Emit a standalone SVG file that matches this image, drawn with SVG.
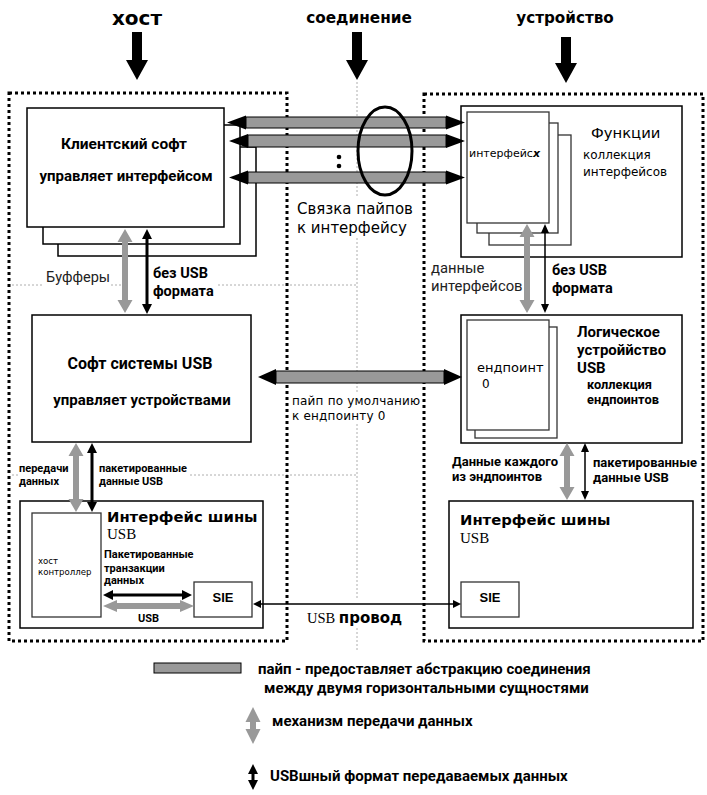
<svg xmlns="http://www.w3.org/2000/svg" width="707" height="795" viewBox="0 0 707 795">
<style>
.box{fill:#fff;stroke:#000;stroke-width:1.5}
.ibox{fill:#fff;stroke:#333;stroke-width:1.3}
.frame{fill:none;stroke:#000;stroke-width:3;stroke-dasharray:3 3}
.guide{fill:none;stroke:#999;stroke-width:0.8;stroke-dasharray:2 2}
.pipe{fill:#999;stroke:#000;stroke-width:1}
.head{fill:#000;stroke:none}
.garr{fill:#999;stroke:none}
.barr{fill:#000;stroke:none}
.rb{font-family:Roboto,"Liberation Sans",sans-serif;font-weight:bold;fill:#000}
.rr{font-family:Roboto,"Liberation Sans",sans-serif;fill:#222}
.dj{font-family:"DejaVu Sans",sans-serif;fill:#000}
.djb{font-family:"DejaVu Sans",sans-serif;font-weight:bold;fill:#000}
.sf{font-family:"Liberation Serif",serif;fill:#000}
.ls{font-family:"Liberation Sans",Arial,sans-serif;font-weight:bold;fill:#000}
</style>
<rect x="0" y="0" width="707" height="795" fill="#fff"/>

<g id="guides">
<path class="guide" d="M357,82V198M357,238V392M357,424V598M357,628V650"/>
<path class="guide" d="M12,285H44M111,285H121M218,285H358"/>
<path class="guide" d="M12,475H18M190,475H358"/>
</g>

<g id="titles">
<text class="djb" x="137" y="25" font-size="20" text-anchor="middle">хост</text>
<polygon class="barr" points="132,32 142,32 142,60 148,60 137,80 126,60 132,60"/>
<text class="djb" x="359" y="23" font-size="15.3" text-anchor="middle">соединение</text>
<polygon class="barr" points="352,32 362,32 362,60 368,60 357,80 346,60 352,60"/>
<text class="djb" x="565" y="23" font-size="15.2" text-anchor="middle">устройство</text>
<polygon class="barr" points="561,37 571,37 571,63 577,63 566,83 555,63 561,63"/>
</g>

<g id="host-frame"><rect class="frame" x="9" y="93" width="278" height="548"/></g>
<g id="device-frame"><rect class="frame" x="424" y="94" width="279" height="547"/></g>

<g id="client-soft">
<rect class="box" x="58" y="147" width="198" height="109"/>
<rect class="box" x="43" y="125" width="197" height="119"/>
<rect class="box" x="27" y="108" width="197" height="119"/>
<text class="rb" x="124" y="149" font-size="15.5" text-anchor="middle">Клиентский софт</text>
<text class="rb" x="126" y="181" font-size="15" text-anchor="middle">управляет интерфейсом</text>
</g>

<g id="functions">
<rect class="box" x="461" y="106" width="221" height="151"/>
<rect class="ibox" x="489" y="135" width="82" height="110"/>
<rect class="ibox" x="477" y="123" width="81" height="110"/>
<rect class="ibox" x="467" y="112" width="82" height="111"/>
<text class="dj" x="469" y="157" font-size="11">интерфейс<tspan font-weight="bold" font-style="italic">x</tspan></text>
<text class="dj" x="591" y="138" font-size="14.8">Функции</text>
<text class="dj" x="583" y="159" font-size="12">коллекция</text>
<text class="dj" x="583" y="176" font-size="12">интерфейсов</text>
</g>

<g id="usb-system-soft">
<rect class="box" x="32" y="315" width="219" height="127"/>
<text class="rb" x="140" y="369" font-size="16" text-anchor="middle">Софт системы USB</text>
<text class="rb" x="142" y="405" font-size="15" text-anchor="middle">управляет устройствами</text>
</g>

<g id="logical-device">
<rect class="box" x="461" y="315" width="221" height="128"/>
<rect class="ibox" x="475" y="327" width="82" height="111"/>
<rect class="ibox" x="467" y="320" width="82" height="110"/>
<text class="dj" x="477" y="372" font-size="13">ендпоинт</text>
<text class="dj" x="482" y="388" font-size="12">0</text>
<text class="rb" x="577" y="337" font-size="15">Логическое</text>
<text class="rb" x="577" y="355" font-size="15">устроййство</text>
<text class="rb" x="577" y="373" font-size="15">USB</text>
<text class="rb" x="587" y="389" font-size="12.8">коллекция</text>
<text class="rb" x="587" y="404" font-size="12.8">ендпоинтов</text>
</g>

<g id="host-bus-interface">
<rect class="box" x="20" y="501" width="243" height="127"/>
<rect class="ibox" x="32" y="513" width="69" height="104"/>
<text class="dj" x="38" y="564" font-size="8.6">хост</text>
<text class="dj" x="38" y="575" font-size="8.6">контроллер</text>
<text class="djb" x="107" y="522" font-size="14.8">Интерфейс шины</text>
<text class="sf" x="107" y="539" font-size="15">USB</text>
<text class="rb" x="104" y="558" font-size="11">Пакетированные</text>
<text class="rb" x="104" y="572" font-size="11">транзакции</text>
<text class="rb" x="104" y="584" font-size="11">данных</text>
<rect class="ibox" x="194" y="582" width="58" height="35"/>
<text class="ls" x="223" y="602" font-size="13" text-anchor="middle">SIE</text>
<text class="rb" x="138" y="622" font-size="11">USB</text>
</g>

<g id="device-bus-interface">
<rect class="box" x="449" y="501" width="244" height="127"/>
<text class="djb" x="460" y="525" font-size="14.8">Интерфейс шины</text>
<text class="sf" x="460" y="543" font-size="15">USB</text>
<rect class="ibox" x="461" y="582" width="58" height="35"/>
<text class="ls" x="490" y="602" font-size="13" text-anchor="middle">SIE</text>
</g>

<g id="connectors">
<rect class="pipe" x="246" y="117" width="200" height="11"/>
<polygon class="head" points="246,115.5 227,122.5 246,129.5"/>
<polygon class="head" points="446,115.5 465,122.5 446,129.5"/>
<rect class="pipe" x="248" y="135" width="198" height="12"/>
<polygon class="head" points="248,134 229,141 248,148"/>
<polygon class="head" points="446,134 465,141 446,148"/>
<rect class="pipe" x="248" y="172" width="198" height="11"/>
<polygon class="head" points="248,170.5 229,177.5 248,184.5"/>
<polygon class="head" points="446,170.5 465,177.5 446,184.5"/>
<circle cx="339" cy="157" r="2.3" fill="#000"/>
<circle cx="339" cy="166" r="2.3" fill="#000"/>
<ellipse cx="385" cy="151" rx="27" ry="44" fill="none" stroke="#000" stroke-width="3"/>

<rect class="pipe" x="276" y="371" width="168" height="12"/>
<polygon class="head" points="276,369 258,377 276,385"/>
<polygon class="head" points="444,369 462,377 444,385"/>

<polygon class="garr" points="125,229 132.5,242 128,242 128,300 132.5,300 125,313 117.5,300 122,300 122,242 117.5,242"/>
<polygon class="barr" points="147,229 152,239 148.5,239 148.5,304 152,304 147,314 142,304 145.5,304 145.5,239 142,239"/>
<polygon class="garr" points="527,224 534.5,237 530,237 530,300 534.5,300 527,313 519.5,300 524,300 524,237 519.5,237"/>
<polygon class="barr" points="545,224 549,233 545.75,233 545.75,304 549,304 545,313 541,304 544.25,304 544.25,233 541,233"/>
<polygon class="garr" points="76,443 83.5,456 79,456 79,499 83.5,499 76,512 68.5,499 73,499 73,456 68.5,456"/>
<polygon class="barr" points="92,443 97,453 93.5,453 93.5,502 97,502 92,512 87,502 90.5,502 90.5,453 87,453"/>
<polygon class="garr" points="567,443 574.5,456 570,456 570,487 574.5,487 567,500 559.5,487 564,487 564,456 559.5,456"/>
<polygon class="barr" points="585,443 589,452 585.75,452 585.75,491 589,491 585,500 581,491 584.25,491 584.25,452 581,452"/>
<polygon class="barr" points="103,595 113,590 113,593.5 182,593.5 182,590 192,595 182,600 182,596.5 113,596.5 113,600"/>
<polygon class="garr" points="103,606 117,600 117,603 180,603 180,600 194,606 180,612 180,609 117,609 117,612"/>
<polygon class="barr" points="253,604 261,600 261,603.25 453,603.25 453,600 461,604 453,608 453,604.75 261,604.75 261,608"/>
</g>

<g id="labels">
<text class="dj" x="297" y="214" font-size="15">Связка пайпов</text>
<text class="dj" x="297" y="233" font-size="15">к интерфейсу</text>
<text class="rr" x="46" y="282" font-size="14.5">Буфферы</text>
<text class="rb" x="153" y="278" font-size="14.5">без USB</text>
<text class="rb" x="153" y="296" font-size="14.5">формата</text>
<text class="rr" x="431" y="273" font-size="14.8">данные</text>
<text class="rr" x="431" y="291" font-size="14.8">интерфейсов</text>
<text class="rb" x="552" y="275" font-size="14.5">без USB</text>
<text class="rb" x="552" y="293" font-size="14.5">формата</text>
<text class="dj" x="292" y="405" font-size="12" letter-spacing="0.2">пайп по умолчанию</text>
<text class="dj" x="292" y="420" font-size="12" letter-spacing="0.2">к ендпоинту 0</text>
<text class="rb" x="19" y="472" font-size="11">передачи</text>
<text class="rb" x="19" y="485" font-size="11">данных</text>
<text class="rb" x="99" y="472" font-size="11">пакетированные</text>
<text class="rb" x="99" y="485" font-size="11">данные USB</text>
<text class="rb" x="452" y="466" font-size="13">Данные каждого</text>
<text class="rb" x="452" y="481" font-size="13">из эндпоинтов</text>
<text class="rb" x="593" y="467" font-size="13">пакетированные</text>
<text class="rb" x="593" y="482" font-size="13">данные USB</text>
<text x="307" y="623"><tspan class="sf" font-size="14.5">USB </tspan><tspan class="djb" font-size="15">провод</tspan></text>
</g>

<g id="legend">
<rect class="pipe" x="154" y="663" width="87" height="10"/>
<text class="rb" x="258" y="674" font-size="15">пайп - предоставляет абстракцию соединения</text>
<text class="rb" x="264" y="693" font-size="15">между двумя горизонтальными сущностями</text>
<polygon class="garr" points="253,707 260.5,722 256,722 256,729 260.5,729 253,744 245.5,729 250,729 250,722 245.5,722"/>
<text class="rb" x="272" y="726" font-size="15">механизм передачи данных</text>
<polygon class="barr" points="253,764 258,774 254.5,774 254.5,780 258,780 253,790 248,780 251.5,780 251.5,774 248,774"/>
<text class="rb" x="270" y="781" font-size="15">USBшный формат передаваемых данных</text>
</g>
</svg>
